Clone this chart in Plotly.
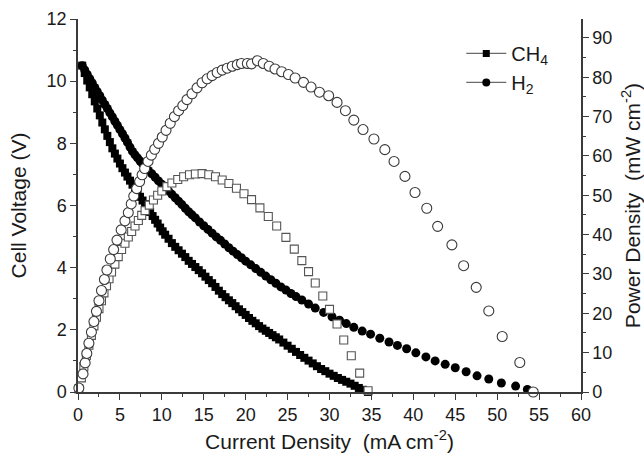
import plotly.graph_objects as go

# ---------------- data ----------------
# CH4: cell voltage (V) vs current density (mA cm-2)
ch4_v_x = [0.5, 0.8, 1.1, 1.4, 1.7, 2.0, 2.3, 2.6, 2.9, 3.2,
           3.5, 3.8, 4.1, 4.4, 4.7, 5.0, 5.3, 5.6, 5.9, 6.2,
           6.5, 6.8, 7.1, 7.4, 7.7, 8.0, 8.3, 8.6, 8.9, 9.2,
           9.5, 9.8, 10.1, 10.4, 10.8, 11.2, 11.6, 12.0, 12.4, 12.8,
           13.2, 13.6, 14.0, 14.4, 14.8, 15.2, 15.6, 16.0, 16.4, 16.8,
           17.2, 17.6, 18.0, 18.4, 18.8, 19.2, 19.6, 20.0, 20.4, 20.8,
           21.2, 21.6, 22.0, 22.4, 22.8, 23.2, 23.6, 24.0, 24.5, 25.0,
           25.5, 26.0, 26.5, 27.0, 27.5, 28.0, 28.5, 29.0, 29.5, 30.0,
           30.5, 31.0, 31.5, 32.0, 32.5, 33.0, 33.5, 34.0, 34.6]
ch4_v = [10.50, 10.26, 10.02, 9.80, 9.58, 9.35, 9.12, 8.90, 8.67, 8.45,
         8.24, 8.04, 7.84, 7.67, 7.51, 7.35, 7.20, 7.06, 6.93, 6.80,
         6.67, 6.54, 6.41, 6.28, 6.16, 6.04, 5.92, 5.79, 5.66, 5.54,
         5.42, 5.29, 5.17, 5.06, 4.93, 4.79, 4.67, 4.56, 4.45, 4.34,
         4.22, 4.12, 4.02, 3.92, 3.82, 3.71, 3.60, 3.50, 3.38, 3.26,
         3.15, 3.05, 2.95, 2.86, 2.76, 2.66, 2.57, 2.48, 2.38, 2.29,
         2.21, 2.12, 2.04, 1.97, 1.90, 1.83, 1.76, 1.69, 1.59, 1.49,
         1.39, 1.29, 1.19, 1.10, 1.01, 0.92, 0.83, 0.74, 0.67, 0.59,
         0.52, 0.45, 0.39, 0.33, 0.27, 0.20, 0.13, 0.07, 0.00]

# H2: cell voltage (V)
h2_v_x = [0.5, 0.8, 1.1, 1.4, 1.7, 2.0, 2.3, 2.6, 2.9, 3.2,
          3.5, 3.8, 4.1, 4.4, 4.7, 5.0, 5.3, 5.6, 5.9, 6.2,
          6.5, 6.8, 7.1, 7.4, 7.7, 8.0, 8.4, 8.8, 9.2, 9.6,
          10.0, 10.4, 10.8, 11.2, 11.6, 12.0, 12.4, 12.8, 13.2, 13.6,
          14.0, 14.5, 15.0, 15.5, 16.0, 16.5, 17.0, 17.5, 18.0, 18.5,
          19.0, 19.5, 20.0, 20.6, 21.2, 21.8, 22.4, 23.0, 23.6, 24.2,
          24.8, 25.4, 26.0, 26.7, 27.5, 28.3, 29.3, 30.3, 31.2, 32.0,
          32.9, 33.9, 34.9, 36.0, 37.1, 38.1, 39.2, 40.3, 41.5, 42.6,
          43.8, 45.0, 46.3, 47.6, 49.0, 50.5, 52.2, 53.6, 54.3]
h2_v = [10.50, 10.36, 10.22, 10.08, 9.94, 9.80, 9.66, 9.53, 9.39, 9.25,
        9.12, 8.98, 8.85, 8.71, 8.58, 8.44, 8.31, 8.17, 8.03, 7.88,
        7.74, 7.63, 7.53, 7.43, 7.34, 7.25, 7.13, 7.02, 6.91, 6.79,
        6.68, 6.57, 6.47, 6.36, 6.25, 6.14, 6.03, 5.91, 5.80, 5.70,
        5.60, 5.47, 5.35, 5.23, 5.11, 4.99, 4.88, 4.76, 4.64, 4.53,
        4.42, 4.32, 4.21, 4.09, 3.97, 3.85, 3.73, 3.61, 3.50, 3.38,
        3.28, 3.17, 3.07, 2.96, 2.83, 2.70, 2.56, 2.42, 2.31, 2.20,
        2.08, 1.96, 1.86, 1.73, 1.61, 1.50, 1.39, 1.26, 1.13, 1.00,
        0.89, 0.78, 0.65, 0.52, 0.42, 0.29, 0.19, 0.08, 0.00]

# CH4: power density (mW cm-2)
ch4_p_x = [0.1, 0.4, 0.7, 1.0, 1.3, 1.6, 1.9, 2.2, 2.5, 2.8,
           3.1, 3.4, 3.7, 4.0, 4.4, 4.8, 5.2, 5.6, 6.0, 6.4,
           6.8, 7.2, 7.6, 8.0, 8.5, 9.0, 9.5, 10.0, 10.6, 11.2,
           11.9, 12.6, 13.3, 14.0, 14.8, 15.6, 16.4, 17.2, 18.0, 18.9,
           19.8, 20.7, 21.7, 22.7, 23.7, 24.8, 25.8, 26.7, 27.5, 28.3,
           29.2, 30.0, 30.9, 31.7, 32.6, 33.6, 34.6]
ch4_p = [0.8, 3.6, 6.5, 9.3, 11.9, 14.4, 16.8, 19.0, 21.2, 23.2,
         25.2, 27.0, 28.8, 30.5, 32.5, 34.4, 36.2, 37.8, 39.4, 40.8,
         42.2, 43.6, 44.9, 46.1, 47.5, 48.8, 50.0, 51.1, 52.2, 53.1,
         54.0, 54.7, 55.2, 55.4, 55.5, 55.2, 54.7, 53.9, 53.0, 51.8,
         50.4, 48.9, 46.8, 44.6, 42.2, 39.3, 36.3, 33.4, 30.6, 27.7,
         24.4, 21.0, 17.3, 13.2, 9.2, 4.8, 0.3]

# H2: power density (mW cm-2)
h2_p_x = [0.1, 0.6, 0.85, 1.05, 1.3, 1.6, 1.9, 2.2, 2.5, 2.8,
          3.15, 3.45, 3.85, 4.25, 4.65, 5.15, 5.6, 6.0, 6.35, 6.65,
          7.0, 7.35, 7.65, 7.95, 8.35, 8.75, 9.15, 9.6, 10.05, 10.5,
          11.0, 11.5, 12.0, 12.5, 13.0, 13.6, 14.2, 14.8, 15.4, 16.0,
          16.6, 17.2, 17.8, 18.4, 19.0, 19.5, 20.2, 20.7, 21.4, 22.1,
          22.8, 23.5, 24.3, 25.1, 25.9, 26.9, 27.8, 28.8, 29.9, 30.9,
          31.9, 32.9, 34.0, 35.3, 36.6, 37.7, 39.0, 40.2, 41.6, 42.9,
          44.6, 46.0, 47.5, 49.0, 50.6, 52.7, 54.3]
h2_p = [1.0, 4.6, 7.4, 9.8, 12.4, 15.2, 17.9, 20.5, 23.2, 25.8,
        28.6, 31.0, 33.8, 36.2, 38.6, 41.2, 43.5, 45.6, 47.8, 49.8,
        51.7, 53.5, 55.2, 56.8, 58.6, 60.2, 61.7, 63.2, 64.8, 66.5,
        68.3, 70.0, 71.5, 72.8, 74.3, 75.8, 77.3, 78.6, 79.6, 80.4,
        81.2, 81.8, 82.3, 82.8, 83.2, 83.5, 83.5, 83.4, 84.2, 83.5,
        82.8, 82.1, 81.4, 80.7, 79.8, 78.7, 77.5, 76.2, 75.3, 73.6,
        71.5, 69.1, 66.7, 64.3, 61.6, 58.6, 54.8, 50.7, 46.7, 42.1,
        37.4, 32.1, 26.6, 20.6, 14.1, 7.5, 0.0]

legend_names = ["CH<sub>4</sub>", "H<sub>2</sub>"]

# ---------------- figure ----------------
FONT = "Liberation Sans, Arial, sans-serif"
AX = "#3a3a3a"
TXT = "#1a1a1a"

fig = go.Figure()

fig.add_trace(go.Scatter(x=ch4_v_x, y=ch4_v, mode="markers", showlegend=False,
                         marker=dict(symbol="square", size=8, color="black"),
                         cliponaxis=False, xaxis="x", yaxis="y"))
fig.add_trace(go.Scatter(x=h2_v_x, y=h2_v, mode="markers", showlegend=False,
                         marker=dict(symbol="circle", size=9, color="black"),
                         cliponaxis=False, xaxis="x", yaxis="y"))
fig.add_trace(go.Scatter(x=ch4_p_x, y=ch4_p, mode="markers", showlegend=False,
                         marker=dict(symbol="square", size=8, color="white",
                                     line=dict(color="#555555", width=1.1)),
                         cliponaxis=False, xaxis="x", yaxis="y2"))
fig.add_trace(go.Scatter(x=h2_p_x, y=h2_p, mode="markers", showlegend=False,
                         marker=dict(symbol="circle", size=10, color="white",
                                     line=dict(color="#3a3a3a", width=1.1)),
                         cliponaxis=False, xaxis="x", yaxis="y2"))

# legend-only entries (line + marker glyph as in the reference)
fig.add_trace(go.Scatter(x=[None], y=[None], mode="lines+markers", name=legend_names[0],
                         line=dict(color="#6a6a6a", width=1.3),
                         marker=dict(symbol="square", size=7, color="black")))
fig.add_trace(go.Scatter(x=[None], y=[None], mode="lines+markers", name=legend_names[1],
                         line=dict(color="#6a6a6a", width=1.3),
                         marker=dict(symbol="circle", size=8, color="black")))

tickfont = dict(family=FONT, size=18, color=TXT)
titlefont = dict(family=FONT, size=21, color=TXT)

fig.update_layout(
    width=644, height=459,
    margin=dict(l=78, r=63, t=19, b=67, autoexpand=False),
    paper_bgcolor="white", plot_bgcolor="white",
    font=dict(family=FONT, color=TXT),
    showlegend=True,
    legend=dict(x=0.762, y=0.96, xanchor="left", yanchor="top",
                bgcolor="rgba(0,0,0,0)", font=dict(family=FONT, size=20, color=TXT),
                itemwidth=40),
    xaxis=dict(range=[0, 60], dtick=5, tick0=0, ticks="outside", ticklen=6, tickwidth=1.3,
               tickcolor=AX, minor=dict(dtick=2.5, ticks="outside", ticklen=3.5, tickcolor=AX, tickwidth=1.2),
               showline=True, linewidth=1.5, linecolor=AX, mirror=False, automargin=False,
               showgrid=False, zeroline=False, tickfont=tickfont,
               title=dict(text="Current Density  (mA cm<sup>-2</sup>)", font=titlefont, standoff=10)),
    xaxis2=dict(range=[0, 60], overlaying="x", side="top", anchor="y", dtick=5, tick0=0,
                ticks="inside", ticklen=6, tickwidth=1.3, tickcolor=AX, automargin=False,
                minor=dict(dtick=2.5, ticks="inside", ticklen=3.5, tickcolor=AX, tickwidth=1.2),
                showticklabels=False, showline=True, linewidth=1.5, linecolor=AX,
                showgrid=False, zeroline=False),
    yaxis=dict(range=[0, 12], dtick=2, tick0=0, ticks="outside", ticklen=6, tickwidth=1.3,
               tickcolor=AX, minor=dict(dtick=1, ticks="outside", ticklen=3.5, tickcolor=AX, tickwidth=1.2),
               showline=True, linewidth=1.5, linecolor=AX, showgrid=False, zeroline=False,
               tickfont=tickfont, automargin=False,
               title=dict(text="Cell Voltage (V)", font=titlefont, standoff=14)),
    yaxis2=dict(range=[0, 94.8], overlaying="y", side="right", anchor="x",
                tickvals=[0, 10, 20, 30, 40, 50, 60, 70, 80, 90],
                ticks="outside", ticklen=6, tickwidth=1.3, tickcolor=AX,
                minor=dict(tickvals=[5, 15, 25, 35, 45, 55, 65, 75, 85], ticks="outside",
                           ticklen=3.5, tickcolor=AX, tickwidth=1.2),
                showline=True, linewidth=1.5, linecolor=AX, showgrid=False, zeroline=False,
                tickfont=tickfont, automargin=False,
                title=dict(text="Power Density  (mW cm<sup>-2</sup>)", font=titlefont, standoff=15)),
)

fig.write_html("out.html", config={"displayModeBar": False},
               post_script="document.body.style.margin='0';document.body.style.padding='0';")
